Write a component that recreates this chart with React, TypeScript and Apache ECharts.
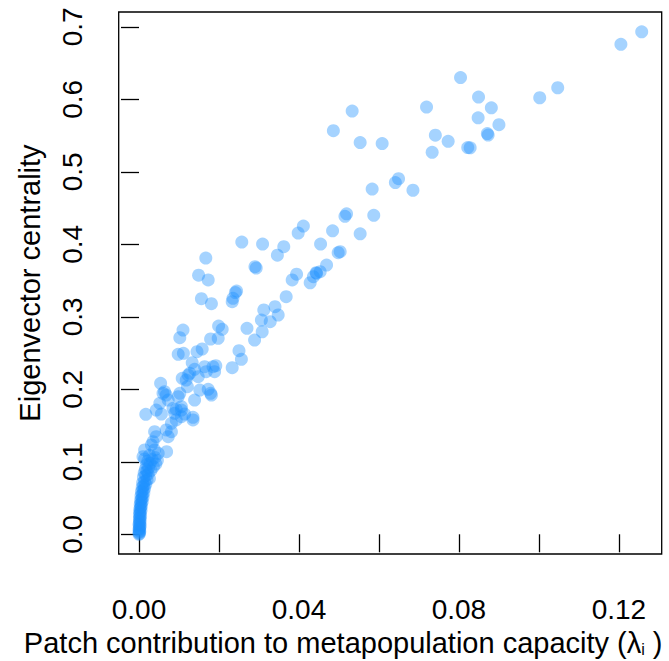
import React, { useEffect, useRef } from "react";
import * as echarts from "echarts";

// [patch contribution λi, eigenvector centrality]
const spreadPoints: [number, number][] = [
  [0.1257, 0.6932], [0.1205, 0.6759], [0.1047, 0.616], [0.1002, 0.6022],
  [0.0804, 0.6301], [0.0849, 0.6032], [0.0881, 0.5884], [0.0719, 0.5894],
  [0.0848, 0.5746], [0.09, 0.565], [0.0871, 0.5528], [0.0873, 0.5508],
  [0.0741, 0.5505], [0.0773, 0.5421], [0.0822, 0.5335], [0.0828, 0.5332],
  [0.0733, 0.527], [0.0533, 0.5839], [0.0486, 0.5567], [0.0553, 0.5404],
  [0.0608, 0.539], [0.0649, 0.4905], [0.0641, 0.4852], [0.0685, 0.4746],
  [0.0583, 0.4763], [0.0587, 0.44], [0.0519, 0.4421], [0.0515, 0.4386],
  [0.0553, 0.4145], [0.0484, 0.4186], [0.0411, 0.4252], [0.0398, 0.4156],
  [0.0454, 0.4004], [0.0362, 0.3967], [0.0346, 0.385], [0.0309, 0.4004],
  [0.0257, 0.4032], [0.0503, 0.3898], [0.0498, 0.3884], [0.0469, 0.3714],
  [0.0453, 0.3622], [0.0444, 0.36], [0.0436, 0.3553], [0.0428, 0.347],
  [0.0443, 0.3608], [0.029, 0.3691], [0.0293, 0.3673], [0.0167, 0.3811],
  [0.0149, 0.3574], [0.0173, 0.3508], [0.0241, 0.3335], [0.0244, 0.3356],
  [0.0235, 0.3255], [0.0233, 0.3208], [0.0156, 0.325], [0.0181, 0.3181],
  [0.0394, 0.3588], [0.0383, 0.3508], [0.0368, 0.3277], [0.0312, 0.3094],
  [0.034, 0.3139], [0.0348, 0.3025], [0.0306, 0.2956], [0.0328, 0.2932],
  [0.011, 0.2818], [0.0199, 0.2873], [0.0208, 0.2828], [0.027, 0.2841],
  [0.0289, 0.268], [0.0308, 0.2794], [0.0179, 0.2694], [0.0198, 0.2703],
  [0.0102, 0.2712], [0.0098, 0.2483], [0.0111, 0.2497], [0.0145, 0.2519],
  [0.0158, 0.2556], [0.025, 0.2532], [0.0256, 0.2414], [0.0233, 0.2298],
  [0.0185, 0.2312], [0.0192, 0.2326], [0.0189, 0.2243], [0.0164, 0.2312],
  [0.0133, 0.2367], [0.0139, 0.2276], [0.0127, 0.2221], [0.0148, 0.2174],
  [0.0118, 0.2128], [0.0108, 0.2152], [0.0123, 0.2197], [0.0168, 0.2243],
  [0.0121, 0.2036], [0.0152, 0.199], [0.0173, 0.2], [0.0179, 0.1945],
  [0.0181, 0.1921], [0.0139, 0.1852], [0.0054, 0.2083], [0.006, 0.1945],
  [0.0064, 0.1967], [0.0068, 0.1921], [0.0102, 0.1945], [0.0098, 0.1898],
  [0.0052, 0.1807], [0.0073, 0.1852], [0.0106, 0.176], [0.0093, 0.1724],
  [0.0089, 0.1669], [0.0106, 0.1622], [0.0114, 0.1659], [0.0135, 0.1614],
  [0.0017, 0.1655], [0.0056, 0.1659], [0.0043, 0.1714], [0.0085, 0.1738],
  [0.0106, 0.1714], [0.0093, 0.1577], [0.0081, 0.1531], [0.0135, 0.1577],
  [0.0068, 0.1439], [0.0081, 0.1415], [0.0073, 0.1346], [0.0039, 0.1415],
  [0.0043, 0.1346], [0.0035, 0.1277], [0.0031, 0.1232], [0.0039, 0.1163],
  [0.0048, 0.1117], [0.0069, 0.1139], [0.0014, 0.1163], [0.001, 0.107],
];

const clusterPoints: [number, number][] = [
  [0.0, 0.0], [0.0001, 0.001], [0.0, 0.0025], [0.0002, 0.004], [0.0001, 0.0055],
  [0.0, 0.007], [0.0002, 0.0085], [0.0001, 0.01], [0.0003, 0.012], [0.0, 0.0135],
  [0.0002, 0.015], [0.0001, 0.017], [0.0003, 0.019], [0.0001, 0.021], [0.0002, 0.023],
  [0.0004, 0.025], [0.0001, 0.027], [0.0003, 0.029], [0.0002, 0.031], [0.0005, 0.033],
  [0.0002, 0.035], [0.0004, 0.037], [0.0006, 0.039], [0.0003, 0.041], [0.0005, 0.043],
  [0.0008, 0.045], [0.0004, 0.047], [0.0007, 0.049], [0.001, 0.051], [0.0005, 0.053],
  [0.0008, 0.055], [0.0012, 0.057], [0.0006, 0.059], [0.001, 0.061], [0.0014, 0.063],
  [0.0008, 0.065], [0.0012, 0.067], [0.0017, 0.069], [0.0009, 0.071], [0.0014, 0.073],
  [0.002, 0.075], [0.0026, 0.077], [0.0011, 0.079], [0.0017, 0.081], [0.0023, 0.083],
  [0.0013, 0.085], [0.002, 0.087], [0.003, 0.088], [0.0016, 0.09], [0.0024, 0.092],
  [0.0036, 0.093], [0.0019, 0.096], [0.0028, 0.098], [0.0042, 0.097], [0.0022, 0.101],
  [0.0033, 0.103], [0.0014, 0.104], [0.0026, 0.109], [0.004, 0.106], [0.0046, 0.102],
];

const xTickValues = [0, 0.02, 0.04, 0.06, 0.08, 0.1, 0.12];
const xLabelValues = [0, 0.04, 0.08, 0.12];
const yTickValues = [0, 0.1, 0.2, 0.3, 0.4, 0.5, 0.6, 0.7];

const FONT = "'Liberation Sans', Arial, Helvetica, sans-serif";

export default function App() {
  const ref = useRef<HTMLDivElement>(null);
  useEffect(() => {
    const chart = echarts.init(ref.current!, null, { renderer: "svg" });
    chart.setOption({
      animation: false,
      backgroundColor: "#ffffff",
      grid: {
        left: 118.7,
        right: 7.3,
        top: 12,
        bottom: 107,
        containLabel: false,
        outerBoundsMode: "none",
        show: true,
        borderColor: "#000",
        borderWidth: 1.3,
        backgroundColor: "transparent",
      },
      xAxis: {
        type: "value",
        min: -0.00508,
        max: 0.1307,
        name: "Patch contribution to metapopulation capacity (λ{sub|i} )",
        nameLocation: "middle",
        nameGap: 74,
        nameTextStyle: {
          fontSize: 29,
          color: "#000",
          fontFamily: FONT,
          padding: [0, 94, 0, 0],
          rich: {
            sub: { fontSize: 16, color: "#000", fontFamily: FONT, verticalAlign: "bottom" },
          },
        },
        axisLine: { show: false },
        splitLine: { show: false },
        axisTick: {
          show: true,
          inside: false,
          length: 18,
          customValues: xTickValues,
          lineStyle: { color: "#000", width: 1.3 },
        },
        axisLabel: {
          customValues: xLabelValues,
          formatter: (v: number) => v.toFixed(2),
          margin: 41,
          fontSize: 28,
          color: "#000",
          fontFamily: FONT,
        },
      },
      yAxis: {
        type: "value",
        min: -0.0272,
        max: 0.7205,
        name: "Eigenvector centrality",
        nameLocation: "middle",
        nameRotate: 90,
        nameGap: 74,
        nameTextStyle: { fontSize: 29, color: "#000", fontFamily: FONT },
        axisLine: { show: false },
        splitLine: { show: false },
        axisTick: {
          show: true,
          inside: false,
          length: 18,
          customValues: yTickValues,
          lineStyle: { color: "#000", width: 1.3 },
        },
        axisLabel: {
          customValues: yTickValues,
          rotate: 90,
          formatter: (v: number) => v.toFixed(1),
          margin: 32,
          fontSize: 28,
          color: "#000",
          fontFamily: FONT,
        },
      },
      series: [
        {
          type: "scatter",
          symbol: "circle",
          symbolSize: 13,
          itemStyle: { color: "rgba(30,144,255,0.5)" },
          emphasis: { disabled: true },
          data: [...clusterPoints, ...spreadPoints],
        },
      ],
    });
    return () => chart.dispose();
  }, []);
  return (
    <div
      ref={ref}
      style={{ position: "absolute", left: 0, top: 0, width: 669, height: 661, background: "#fff" }}
    />
  );
}
